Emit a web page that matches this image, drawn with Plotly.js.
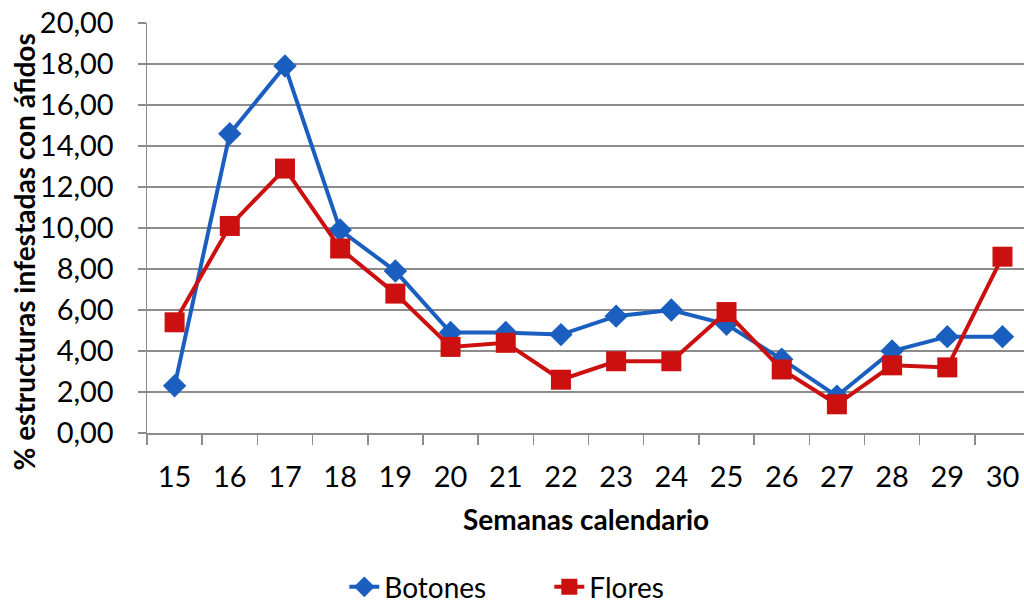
<!DOCTYPE html>
<html>
<head>
<meta charset="utf-8">
<script src="https://cdn.plot.ly/plotly-3.0.1.min.js"></script>
<style>
  html, body { margin: 0; padding: 0; background: #fff; overflow: hidden; }
  #chart { width: 1024px; height: 616px; }
</style>
</head>
<body>
<div id="chart"></div>
<script>
// semanas calendario
const semanas = ["15", "16", "17", "18", "19", "20", "21", "22", "23", "24", "25", "26", "27", "28", "29", "30"];
// % estructuras infestadas
const botones = [2.3, 14.6, 17.9, 9.9, 7.9, 4.9, 4.9, 4.8, 5.7, 6.0, 5.3, 3.6, 1.8, 4.0, 4.7, 4.7];
const flores = [5.4, 10.1, 12.9, 9.0, 6.8, 4.2, 4.4, 2.6, 3.5, 3.5, 5.9, 3.1, 1.4, 3.3, 3.2, 8.6];

const azul = "#1a5fbf";
const rojo = "#cc1010";
const gris = "#8c8c8c";
const fuente = "Lato, 'Open Sans', sans-serif";

const traces = [
  {
    x: semanas,
    y: botones,
    name: "Botones",
    type: "scatter",
    mode: "lines+markers",
    line: { color: azul, width: 4 },
    marker: { symbol: "diamond", size: 18, color: azul },
  },
  {
    x: semanas,
    y: flores,
    name: "Flores",
    type: "scatter",
    mode: "lines+markers",
    line: { color: rojo, width: 4 },
    marker: { symbol: "square", size: 20, color: rojo },
  },
];

const layout = {
  width: 1024,
  height: 616,
  separators: ",.",
  font: { family: fuente, size: 29, color: "#000" },
  plot_bgcolor: "white",
  paper_bgcolor: "white",
  margin: { l: 147, r: 0, t: 23, b: 183 },
  showlegend: true,
  legend: {
    orientation: "h",
    x: 0.225,
    xanchor: "left",
    y: -0.437,
    yanchor: "bottom",
    font: { family: fuente, size: 28 },
    entrywidth: 160,
    tracegroupgap: 0,
  },
  xaxis: {
    type: "category",
    range: [-0.5, 15.39],
    tickson: "boundaries",
    ticks: "outside",
    ticklen: 10,
    tickcolor: gris,
    tickwidth: 1.5,
    ticklabelstandoff: 18,
    showgrid: false,
    showline: true,
    linecolor: gris,
    linewidth: 1.5,
    zeroline: false,
    tickfont: { family: fuente, size: 29 },
    fixedrange: true,
  },
  yaxis: {
    range: [0, 20],
    dtick: 2,
    tickformat: ".2f",
    ticks: "outside",
    ticklen: 8,
    tickcolor: gris,
    tickwidth: 1.5,
    ticklabelstandoff: 18,
    showgrid: true,
    gridcolor: gris,
    gridwidth: 1.5,
    showline: true,
    linecolor: gris,
    linewidth: 1.5,
    zeroline: false,
    tickfont: { family: fuente, size: 29 },
    fixedrange: true,
  },
  annotations: [
    {
      xref: "paper",
      yref: "paper",
      x: 0.5,
      y: -0.21,
      xanchor: "center",
      yanchor: "middle",
      text: "<b>Semanas calendario</b>",
      showarrow: false,
      font: { family: fuente, size: 28 },
    },
    {
      xref: "paper",
      yref: "paper",
      x: 0,
      xshift: -123,
      y: 0.44,
      xanchor: "center",
      yanchor: "middle",
      textangle: -90,
      text: "<b>% estructuras infestadas con áfidos</b>",
      showarrow: false,
      font: { family: fuente, size: 28 },
    },
  ],
};

Plotly.newPlot("chart", traces, layout, { displayModeBar: false, staticPlot: true });
</script>
</body>
</html>
